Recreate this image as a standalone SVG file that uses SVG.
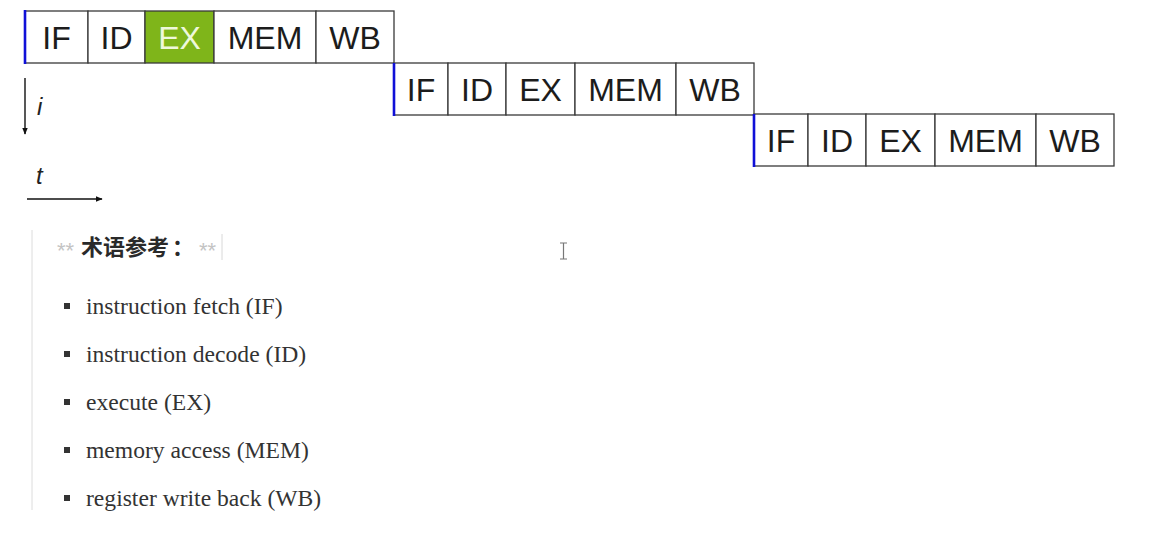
<svg xmlns="http://www.w3.org/2000/svg" width="1165" height="534" viewBox="0 0 1165 534">
<defs>
<style>
.cell{fill:#fff;stroke:#3a3a3a;stroke-width:1.3}
.ex{fill:#7fb51a;stroke:#3a3a3a;stroke-width:1.3}
.lbl{font-family:"Liberation Sans",Arial,sans-serif;font-size:32px;fill:#1c1c1c;text-anchor:middle}
.lblw{font-family:"Liberation Sans",Arial,sans-serif;font-size:32px;fill:#eef8dc;text-anchor:middle}
.blue{stroke:#1010d8;stroke-width:2.6}
.ax{stroke:#111;stroke-width:1.4;fill:none}
.axl{font-family:"Liberation Sans",Arial,sans-serif;font-size:24px;font-style:italic;fill:#222}
.item{font-family:"Liberation Serif","Times New Roman",serif;font-size:23.6px;fill:#333}
.bul{fill:#333}
.star{font-family:"Liberation Sans",Arial,sans-serif;font-size:22px;fill:#c4c4c4}
.hdr{font-family:"Noto Sans CJK SC",sans-serif;font-size:22px;font-weight:bold;fill:#2a2a2a}
</style>
<marker id="ah" viewBox="0 0 10 10" refX="9" refY="5" markerWidth="7" markerHeight="7" orient="auto" markerUnits="userSpaceOnUse">
<path d="M0,1 L10,5 L0,9 z" fill="#111"/>
</marker>
</defs>
<rect width="1165" height="534" fill="#fff"/>

<g id="row1">
<rect class="cell" x="25" y="11" width="63" height="52"/>
<rect class="cell" x="88" y="11" width="57" height="52"/>
<rect class="ex" x="145" y="11" width="69" height="52"/>
<rect class="cell" x="214" y="11" width="102" height="52"/>
<rect class="cell" x="316" y="11" width="78" height="52"/>
<line class="blue" x1="25" y1="10" x2="25" y2="64"/>
<text class="lbl" x="56.5" y="49">IF</text>
<text class="lbl" x="116.5" y="49">ID</text>
<text class="lblw" x="179.5" y="49">EX</text>
<text class="lbl" x="265" y="49">MEM</text>
<text class="lbl" x="355" y="49">WB</text>
</g>

<g id="row2">
<rect class="cell" x="394" y="63" width="54" height="52"/>
<rect class="cell" x="448" y="63" width="58" height="52"/>
<rect class="cell" x="506" y="63" width="69" height="52"/>
<rect class="cell" x="575" y="63" width="101" height="52"/>
<rect class="cell" x="676" y="63" width="78" height="52"/>
<line class="blue" x1="394" y1="63" x2="394" y2="116"/>
<text class="lbl" x="421" y="101">IF</text>
<text class="lbl" x="477" y="101">ID</text>
<text class="lbl" x="540.5" y="101">EX</text>
<text class="lbl" x="625.5" y="101">MEM</text>
<text class="lbl" x="715" y="101">WB</text>
</g>

<g id="row3">
<rect class="cell" x="754" y="114" width="54" height="52"/>
<rect class="cell" x="808" y="114" width="58" height="52"/>
<rect class="cell" x="866" y="114" width="69" height="52"/>
<rect class="cell" x="935" y="114" width="101" height="52"/>
<rect class="cell" x="1036" y="114" width="78" height="52"/>
<line class="blue" x1="754" y1="114" x2="754" y2="167"/>
<text class="lbl" x="781" y="152">IF</text>
<text class="lbl" x="837" y="152">ID</text>
<text class="lbl" x="900.5" y="152">EX</text>
<text class="lbl" x="985.5" y="152">MEM</text>
<text class="lbl" x="1075" y="152">WB</text>
</g>

<g id="connectors">
<line class="ax" x1="25" y1="78" x2="25" y2="134" marker-end="url(#ah)"/>
<line class="ax" x1="27" y1="199" x2="102" y2="199" marker-end="url(#ah)"/>
</g>
<text class="axl" x="37" y="115">i</text>
<text class="axl" x="36" y="184">t</text>

<g id="terms">
<line x1="32" y1="230" x2="32" y2="510" stroke="#dcdcdc" stroke-width="1"/>
<text class="star" x="57" y="258">**</text>
<text class="hdr" x="81" y="255">术语参考</text>
<text class="hdr" x="172" y="255">：</text>
<text class="star" x="199" y="258">**</text>
<line x1="222" y1="234" x2="222" y2="260" stroke="#d8d8d8" stroke-width="1"/>
<rect class="bul" x="64" y="303" width="6" height="6"/>
<text class="item" x="86" y="314">instruction fetch (IF)</text>
<rect class="bul" x="64" y="351" width="6" height="6"/>
<text class="item" x="86" y="362">instruction decode (ID)</text>
<rect class="bul" x="64" y="399" width="6" height="6"/>
<text class="item" x="86" y="410">execute (EX)</text>
<rect class="bul" x="64" y="447" width="6" height="6"/>
<text class="item" x="86" y="458">memory access (MEM)</text>
<rect class="bul" x="64" y="495" width="6" height="6"/>
<text class="item" x="86" y="506">register write back (WB)</text>
</g>

<g id="cursor" stroke="#777" stroke-width="1.2" fill="none">
<path d="M560,243 h7 M563.5,243 v16 M560,259 h7"/>
</g>
</svg>
